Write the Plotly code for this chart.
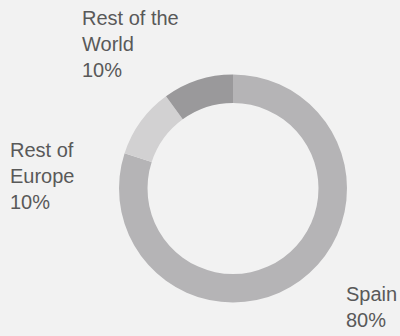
import plotly.graph_objects as go

# Sales breakdown by region (share, %)
regions = ["Spain", "Rest of Europe", "Rest of the World"]
region_labels = ["Spain", "Rest of<br>Europe", "Rest of the<br>World"]
shares = [80, 10, 10]
colors = ["#b5b4b6", "#d2d1d2", "#9a999b"]

W, H = 400, 336
# label anchor points (pixels, top-left of text block)
label_pos = {
    "Spain": (344, 281),
    "Rest of Europe": (8, 137),
    "Rest of the World": (80, 5),
}

cx, cy, r = 233, 188.5, 114

fig = go.Figure(
    go.Pie(
        labels=regions,
        values=shares,
        hole=0.75,
        sort=False,
        direction="clockwise",
        rotation=0,
        marker=dict(colors=colors, line=dict(width=0)),
        textinfo="none",
        hoverinfo="label+percent",
        showlegend=False,
        domain=dict(
            x=[(cx - r) / W, (cx + r) / W],
            y=[1 - (cy + r) / H, 1 - (cy - r) / H],
        ),
    )
)

for name, disp, val in zip(regions, region_labels, shares):
    px, py = label_pos[name]
    fig.add_annotation(
        text=f"{disp}<br>{val}%",
        x=px / W,
        y=1 - py / H,
        xref="paper",
        yref="paper",
        xanchor="left",
        yanchor="top",
        align="left",
        showarrow=False,
        font=dict(family="Liberation Sans, Arial, sans-serif", size=20, color="#595959"),
    )

fig.update_layout(
    width=W,
    height=H,
    margin=dict(l=0, r=0, t=0, b=0),
    paper_bgcolor="#f2f2f2",
    plot_bgcolor="#f2f2f2",
)

fig.write_html("out.html")
